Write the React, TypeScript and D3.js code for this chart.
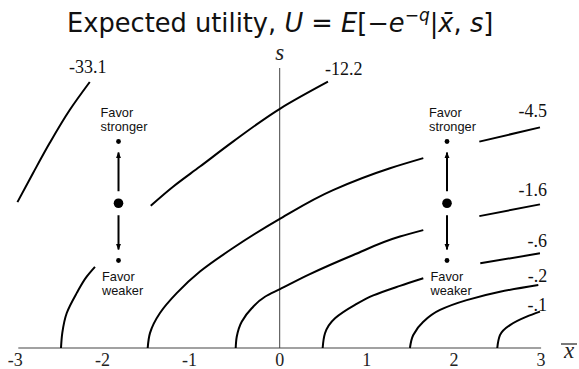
import React from "react";
import * as d3 from "d3";

// Contour levels of expected utility, each drawn as one or more segments of [x̄, s] points.
const LEVEL_LABELS = ["-33.1", "-12.2", "-4.5", "-1.6", "-.6", "-.2", "-.1"];

const CONTOUR_33 = [
  [[-3.01, 0.521], [-2.83, 0.625], [-2.64, 0.732], [-2.41, 0.85], [-2.18, 0.95]],
];
const CONTOUR_12 = [
  [[-2.51, 0], [-2.495, 0.054], [-2.444, 0.125], [-2.33, 0.196], [-2.215, 0.255], [-2.12, 0.29]],
  [[-1.48, 0.508], [-1.224, 0.576], [-0.915, 0.648], [-0.536, 0.737], [0.011, 0.856], [0.554, 0.951]],
];
const CONTOUR_45 = [
  [[-1.515, 0], [-1.488, 0.054], [-1.374, 0.125], [-1.182, 0.196], [-0.915, 0.273], [-0.536, 0.357],
   [0.011, 0.463], [0.612, 0.564], [1.266, 0.642], [1.648, 0.678]],
  [[2.291, 0.737], [2.987, 0.788]],
];
const CONTOUR_16 = [
  [[-0.505, 0], [-0.493, 0.04], [-0.436, 0.094], [-0.321, 0.142], [-0.169, 0.183], [0.003, 0.21],
   [0.328, 0.261], [0.845, 0.332], [1.38, 0.398], [1.648, 0.421]],
  [[2.291, 0.471], [2.987, 0.513]],
];
const CONTOUR_06 = [
  [[0.493, 0], [0.52, 0.0525], [0.635, 0.106], [0.864, 0.154], [1.074, 0.188], [1.38, 0.222], [1.648, 0.249]],
  [[2.302, 0.3025], [2.987, 0.338]],
];
const CONTOUR_02 = [
  [[1.495, 0], [1.533, 0.0464], [1.648, 0.094], [1.84, 0.136], [2.146, 0.171], [2.528, 0.201], [2.968, 0.225]],
];
const CONTOUR_01 = [
  [[2.497, 0], [2.528, 0.046], [2.643, 0.082], [2.834, 0.112], [2.987, 0.13]],
];
const CONTOURS = [CONTOUR_33, CONTOUR_12, CONTOUR_45, CONTOUR_16, CONTOUR_06, CONTOUR_02, CONTOUR_01];

const X_TICKS = [-3, -2, -1, 0, 1, 2, 3];

// Annotation columns: x̄ position and s of the current point and its two neighbours.
const ANNOT_X = [-1.85, 1.92];
const ANNOT_S_CURRENT = 0.517;
const ANNOT_S_STRONGER = 0.7375;
const ANNOT_S_WEAKER = 0.3125;

// Label placement relative to the end of each contour (pixels).
const LABEL_LAYOUT = [
  { dx: -2, dy: -9, anchor: "middle" },
  { dx: -3, dy: -7, anchor: "start" },
  { dx: 7, dy: -10, anchor: "end" },
  { dx: 7, dy: -8, anchor: "end" },
  { dx: 7, dy: -6, anchor: "end" },
  { dx: 9, dy: -3, anchor: "end" },
  { dx: 7, dy: -1, anchor: "end" },
];

const W = 579;
const H = 369;

const SERIF = "Liberation Serif";
const SANS = "Liberation Sans";
const TITLE_FONT = "DejaVu Sans";

export default function App() {
  const x = d3.scaleLinear().domain([-3, 3]).range([18.3, 541.1]);
  const y = d3.scaleLinear().domain([0, 1]).range([348, 68]);
  const line = d3
    .line<number[]>()
    .x((d) => x(d[0]))
    .y((d) => y(d[1]))
    .curve(d3.curveMonotoneY);

  return (
    <svg
      width={W}
      height={H}
      viewBox={`0 0 ${W} ${H}`}
      style={{ position: "absolute", left: 0, top: 0, background: "#fff" }}
    >
      <defs>
        <marker id="head" viewBox="0 0 10 10" refX="9" refY="5" markerWidth="3.2" markerHeight="3.2" orient="auto">
          <path d="M0,1 L10,5 L0,9 Z" fill="#000" />
        </marker>
      </defs>

      {/* Title */}
      <text x={67} y={32} fontFamily={TITLE_FONT} fontSize={25.7} fill="#111">
        <tspan>Expected utility, </tspan>
        <tspan fontStyle="italic">U</tspan>
        <tspan> = </tspan>
        <tspan fontStyle="italic">E</tspan>
        <tspan>[−</tspan>
        <tspan fontStyle="italic">e</tspan>
        <tspan fontSize={17} dy={-11}>−</tspan>
        <tspan fontSize={17} fontStyle="italic">q</tspan>
        <tspan dy={11}>|</tspan>
        <tspan fontStyle="italic">{"x\u0304"}</tspan>
        <tspan>, </tspan>
        <tspan fontStyle="italic">s</tspan>
        <tspan>]</tspan>
      </text>

      {/* Axes */}
      <line x1={x(-3)} x2={x(3)} y1={y(0)} y2={y(0)} stroke="#444" strokeWidth={1.2} />
      <line x1={x(0)} x2={x(0)} y1={y(0)} y2={y(1)} stroke="#444" strokeWidth={1} />
      {X_TICKS.map((t) => (
        <text
          key={t}
          x={x(t) - (t < 0 ? 3 : 0)}
          y={366}
          textAnchor="middle"
          fontFamily={SERIF}
          fontSize={18}
          fill="#222"
        >
          {t < 0 ? `-${Math.abs(t)}` : `${t}`}
        </text>
      ))}
      <text x={x(0)} y={60} textAnchor="middle" fontFamily={SERIF} fontStyle="italic" fontSize={23} fill="#222">
        s
      </text>
      <text x={569} y={358} textAnchor="middle" fontFamily={SERIF} fontStyle="italic" fontSize={23} fill="#222">
        x
      </text>
      <line x1={561} x2={577} y1={344} y2={344} stroke="#222" strokeWidth={1.2} />

      {/* Contours */}
      {CONTOURS.map((segs, i) => (
        <g key={i}>
          {segs.map((seg, j) => (
            <path key={j} d={line(seg) || ""} fill="none" stroke="#000" strokeWidth={2} />
          ))}
        </g>
      ))}
      {CONTOURS.map((segs, i) => {
        const last = segs[segs.length - 1];
        const end = last[last.length - 1];
        const l = LABEL_LAYOUT[i];
        return (
          <text
            key={i}
            x={x(end[0]) + l.dx}
            y={y(end[1]) + l.dy}
            textAnchor={l.anchor}
            fontFamily={SERIF}
            fontSize={18}
            fill="#111"
          >
            {LEVEL_LABELS[i]}
          </text>
        );
      })}

      {/* Favor stronger / weaker annotations */}
      {ANNOT_X.map((ax, i) => {
        const cx = x(ax);
        const cy = y(ANNOT_S_CURRENT);
        const up = y(ANNOT_S_STRONGER);
        const down = y(ANNOT_S_WEAKER);
        return (
          <g key={i}>
            <circle cx={cx} cy={cy} r={4.8} fill="#000" />
            <circle cx={cx} cy={up} r={2.4} fill="#000" />
            <circle cx={cx} cy={down} r={2.4} fill="#000" />
            <line x1={cx} x2={cx} y1={cy - 12} y2={up + 11} stroke="#000" strokeWidth={2} markerEnd="url(#head)" />
            <line x1={cx} x2={cx} y1={cy + 12} y2={down - 11} stroke="#000" strokeWidth={2} markerEnd="url(#head)" />
            <text x={cx - 18} y={up - 25} fontFamily={SANS} fontSize={12.8} fill="#111">
              <tspan x={cx - 18}>Favor</tspan>
              <tspan x={cx - 18} dy={14}>stronger</tspan>
            </text>
            <text x={cx - 16.5} y={down + 20} fontFamily={SANS} fontSize={12.8} fill="#111">
              <tspan x={cx - 16.5}>Favor</tspan>
              <tspan x={cx - 16.5} dy={14}>weaker</tspan>
            </text>
          </g>
        );
      })}
    </svg>
  );
}
